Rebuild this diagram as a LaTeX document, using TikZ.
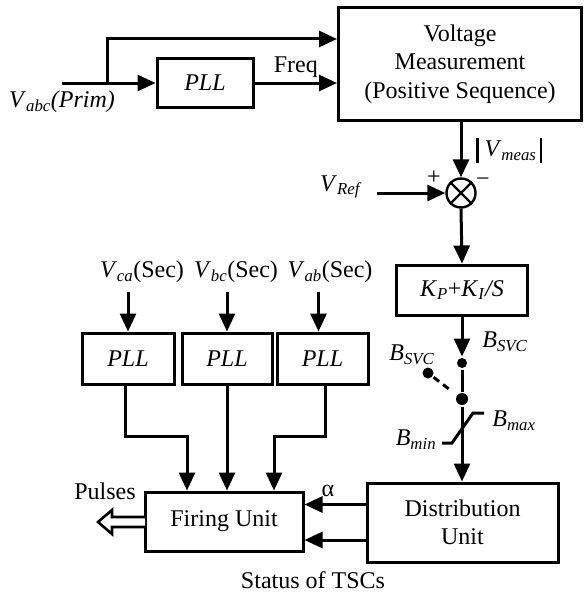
\documentclass[tikz,border=0pt]{standalone}
\usepackage{fontspec}
\setmainfont{Liberation Serif}
\usetikzlibrary{arrows.meta,calc}
\newcommand\mysub[1]{\textsubscript{\textit{#1}}}
\newcommand\mybar{\rule[-6pt]{2.8pt}{25pt}}
\begin{document}
\begin{tikzpicture}[x=1pt,y=-1pt, line width=3pt,
  box/.style={draw, rectangle, inner sep=0pt, align=center, font=\fontsize{24}{28.5}\selectfont},
  arr/.style={-{Triangle[length=18pt,width=16pt]}},
  lbl/.style={inner sep=0pt, font=\fontsize{24}{28}\selectfont},
  dot/.style={circle, fill, inner sep=0pt, minimum size=#1},
  dot/.default=10pt]
\useasboundingbox (0,0) rectangle (587,594);
% top part
\node[box, minimum width=243pt, minimum height=113pt] (vm) at (460,64) {Voltage\\Measurement\\(Positive Sequence)};
\node[box, minimum width=96pt, minimum height=49pt] (pll0) at (205,83) {\textit{PLL}};
\node[lbl] (vabc) at (62,102) {\textit{V}\mysub{abc}\textit{(Prim)}};
\coordinate (vin) at (62,83);
\coordinate (br) at (107,83);
\draw (vin) -- (br);
\draw[arr] (br) -- (pll0.west);
\draw[arr] (br) |- ([yshift=25pt]vm.west);
\draw[arr] (pll0.east) -- (pll0.east -| vm.west) node[midway, above=4pt, lbl] (freq) {Freq};
% summing junction
\node[draw, circle, minimum size=29pt, inner sep=0pt, line width=2.4pt] (sum) at (461,193) {};
\draw[line width=2.4pt] (sum.north west) -- (sum.south east) (sum.north east) -- (sum.south west);
\draw[arr] (vm.south -| sum) -- (sum.north);
\node[lbl] (vmeas) at (509,150) {\mybar\hspace{6pt}\textit{V}\mysub{meas}\hspace{3pt}\mybar};
\node[lbl] (vref) at (341,187) {\textit{V}\mysub{Ref}};
\draw[arr] ([xshift=14pt]vref.east |- sum.west) -- (sum.west);
\node[lbl] (plus) at (434,178) {+};
\node[lbl] (minus) at (483,182) {−};
% PI
\node[box, minimum width=131pt, minimum height=50pt] (kp) at (462,290) {\textit{K}\mysub{P}+\textit{K}\mysub{I}\textit{/S}};
\draw[arr] (sum.south) -- (kp.north);
% switch
\node[dot=10pt] (d1) at (462,363) {};
\node[dot=12pt] (d2) at (462,399) {};
\node[dot=11pt] (d3) at (428,373) {};
\draw[arr] (kp.south) -- (d1.north);
\draw (d1) -- (d2);
\draw[dash pattern=on 7pt off 5pt, shorten >=6pt] (d3) -- (d2);
\node[lbl] (bsvc1) at (505,342) {\textit{B}\mysub{SVC}};
\node[lbl] (bsvc2) at (412,355) {\textit{B}\mysub{SVC}};
% limiter
\draw (442,443) -- (452,443) -- (473,413) -- (484,413);
\node[lbl] (bmax) at (514,421) {\textit{B}\mysub{max}};
\node[lbl] (bmin) at (416,440) {\textit{B}\mysub{min}};
% distribution and firing
\node[box, minimum width=191pt, minimum height=79pt] (dist) at (462.5,522.5) {Distribution\\Unit};
\draw[arr] (d2) -- (dist.north -| d2);
\node[box, minimum width=158pt, minimum height=59pt] (fire) at (224,521.5) {Firing Unit};
\draw[arr] ([yshift=18pt]dist.west) -- ([yshift=18pt]dist.west -| fire.east);
\draw[arr] ([yshift=-17.5pt]dist.west) -- ([yshift=-17.5pt]dist.west -| fire.east);
\node[lbl] (alpha) at (328,491) {α};
\node[lbl] (status) at (313,580) {Status of TSCs};
\draw[line width=2.6pt, fill=white] (145,517) -- (112,517) -- (112,510) -- (98,522) -- (112,534) -- (112,527) -- (145,527);
\node[lbl] (pulses) at (105,491) {Pulses};
% lower PLLs
\node[box, minimum width=92pt, minimum height=51pt] (p1) at (128,358.5) {\textit{PLL}};
\node[box, minimum width=90pt, minimum height=51pt] (p2) at (227,358.5) {\textit{PLL}};
\node[box, minimum width=91pt, minimum height=51pt] (p3) at (322.5,358.5) {\textit{PLL}};
\node[lbl] (l1) at (142,272) {\textit{V}\mysub{ca}(Sec)};
\node[lbl] (l2) at (236,272) {\textit{V}\mysub{bc}(Sec)};
\node[lbl] (l3) at (330,272) {\textit{V}\mysub{ab}(Sec)};
\draw[arr] ([yshift=-8pt]l1.south -| p1.north) -- (p1.north);
\draw[arr] ([yshift=-8pt]l2.south -| p2.north) -- (p2.north);
\draw[arr] ([xshift=-4pt,yshift=-8pt]l3.south -| p3.north) -- ([xshift=-4pt]p3.north);
\draw[arr] ([xshift=-3pt]p1.south) -- ++(0,51) -| ([xshift=-37pt]fire.north);
\draw[arr] (p2.south) -- (p2.south |- fire.north);
\draw[arr] ([xshift=2.5pt]p3.south) -- ++(0,51) -| ([xshift=50pt]fire.north);
\end{tikzpicture}
\end{document}
